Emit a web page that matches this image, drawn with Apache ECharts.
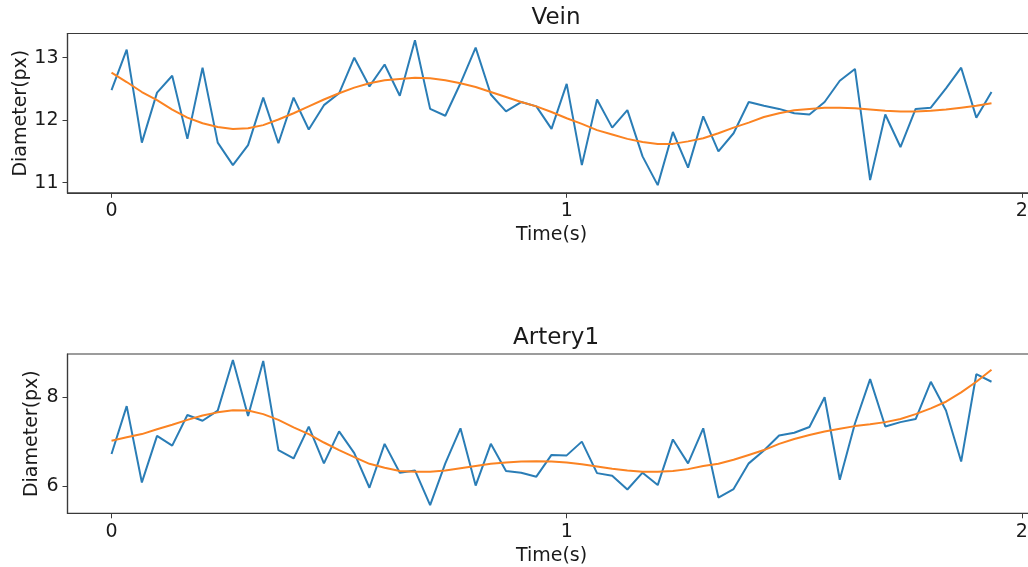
<!DOCTYPE html>
<html>
<head>
<meta charset="utf-8">
<script src="https://cdn.jsdelivr.net/npm/echarts@6/dist/echarts.min.js"></script>
<style>
  html, body { margin: 0; padding: 0; background: #ffffff; overflow: hidden; }
  /* plot area continues a little past the right edge of the window */
  #chart { width: 1036px; height: 567px; }
</style>
</head>
<body>
<div id="chart"></div>
<script>
// Sampling rate of the diameter measurements (frames per second)
const FRAME_RATE = 30;

// Vein: measured diameter per frame and its smoothed fit
const veinRaw = [12.48, 13.13, 11.64, 12.44, 12.71, 11.70, 12.84, 11.64, 11.28, 11.60,
  12.36, 11.63, 12.36, 11.85, 12.24, 12.43, 13.00, 12.54, 12.89, 12.39,
  13.28, 12.18, 12.07, 12.59, 13.16, 12.41, 12.14, 12.29, 12.22, 11.86,
  12.58, 11.28, 12.33, 11.88, 12.16, 11.42, 10.96, 11.81, 11.24, 12.06,
  11.50, 11.79, 12.29, 12.23, 12.18, 12.11, 12.09, 12.29, 12.63, 12.82,
  11.04, 12.09, 11.57, 12.18, 12.20, 12.51, 12.84, 12.04, 12.45];
const veinFit = [12.76, 12.61, 12.45, 12.32, 12.17, 12.04, 11.95, 11.89, 11.86, 11.87,
  11.92, 12.01, 12.11, 12.22, 12.33, 12.43, 12.52, 12.59, 12.64, 12.66,
  12.68, 12.67, 12.64, 12.59, 12.53, 12.45, 12.37, 12.29, 12.22, 12.13,
  12.03, 11.94, 11.84, 11.77, 11.70, 11.65, 11.62, 11.62, 11.66, 11.71,
  11.79, 11.88, 11.96, 12.05, 12.11, 12.16, 12.18, 12.20, 12.20, 12.19,
  12.17, 12.15, 12.14, 12.14, 12.15, 12.17, 12.20, 12.23, 12.27];

// Artery1: measured diameter per frame and its smoothed fit
const arteryRaw = [6.72, 7.80, 6.08, 7.13, 6.91, 7.60, 7.47, 7.70, 8.84, 7.58,
  8.82, 6.81, 6.62, 7.34, 6.51, 7.23, 6.74, 5.96, 6.95, 6.30,
  6.35, 5.57, 6.51, 7.30, 6.01, 6.95, 6.34, 6.30, 6.21, 6.70,
  6.69, 7.00, 6.29, 6.23, 5.92, 6.30, 6.02, 7.05, 6.51, 7.30,
  5.74, 5.93, 6.51, 6.80, 7.14, 7.20, 7.33, 8.00, 6.14, 7.41,
  8.41, 7.34, 7.44, 7.51, 8.35, 7.70, 6.55, 8.52, 8.35];
const arteryFit = [7.02, 7.10, 7.17, 7.28, 7.38, 7.49, 7.59, 7.66, 7.71, 7.70,
  7.62, 7.49, 7.32, 7.17, 6.98, 6.81, 6.65, 6.50, 6.41, 6.34,
  6.32, 6.32, 6.35, 6.40, 6.45, 6.50, 6.53, 6.55, 6.56, 6.55,
  6.53, 6.49, 6.44, 6.39, 6.35, 6.32, 6.32, 6.34, 6.38, 6.45,
  6.50, 6.59, 6.70, 6.81, 6.95, 7.06, 7.15, 7.23, 7.29, 7.35,
  7.39, 7.44, 7.51, 7.62, 7.75, 7.90, 8.11, 8.35, 8.62];

// Tick positions
const timeTicks = [0, 1, 2];
const veinTicks = [11, 12, 13];
const arteryTicks = [6, 8];

const FONT = '"DejaVu Sans", "Liberation Sans", sans-serif';
const BLUE = '#2a7db6';
const ORANGE = '#fb8322';
const FRAME = '#3a3a3a';
const TEXT = '#1a1a1a';

const pairs = (vals) => vals.map((v, i) => [i / FRAME_RATE, v]);

function xAxisFor(gridIndex) {
  return {
    type: 'value', gridIndex,
    min: -0.0967, max: 2.03,
    name: 'Time(s)', nameLocation: 'middle', nameGap: 33,
    nameTextStyle: { fontFamily: FONT, fontSize: 19, color: TEXT },
    axisLine: { show: true, onZero: false, lineStyle: { color: FRAME, width: 1.2 } },
    axisTick: { show: true, length: 5, inside: false, customValues: timeTicks, lineStyle: { color: FRAME, width: 1 } },
    axisLabel: { customValues: timeTicks, margin: 9, fontFamily: FONT, fontSize: 19, color: TEXT },
    splitLine: { show: false }
  };
}

function yAxisFor(gridIndex, min, max, ticks, gap) {
  return {
    type: 'value', gridIndex, min, max,
    name: 'Diameter(px)', nameLocation: 'middle', nameGap: gap, nameMoveOverlap: false,
    nameTextStyle: { fontFamily: FONT, fontSize: 19, color: TEXT },
    axisLine: { show: true, onZero: false, lineStyle: { color: FRAME, width: 1.2 } },
    axisTick: { show: true, length: 5, customValues: ticks, lineStyle: { color: FRAME, width: 1 } },
    axisLabel: { customValues: ticks, margin: 9, fontFamily: FONT, fontSize: 19, color: TEXT },
    splitLine: { show: false }
  };
}

function lineSeries(name, vals, color, idx) {
  return {
    name, type: 'line', xAxisIndex: idx, yAxisIndex: idx,
    data: pairs(vals), showSymbol: false, symbol: 'none',
    lineStyle: { color, width: 2 }, animation: false, silent: true
  };
}

const chart = echarts.init(document.getElementById('chart'), null, { renderer: 'canvas' });
chart.setOption({
  backgroundColor: '#ffffff',
  animation: false,
  title: [
    { text: 'Vein', left: 551, top: 2, textAlign: 'center',
      textStyle: { fontFamily: FONT, fontSize: 23, fontWeight: 'normal', color: TEXT } },
    { text: 'Artery1', left: 551, top: 322, textAlign: 'center',
      textStyle: { fontFamily: FONT, fontSize: 23, fontWeight: 'normal', color: TEXT } }
  ],
  grid: [
    { left: 67.5, top: 33.5, width: 968, height: 159.3, show: true, borderColor: FRAME, borderWidth: 1.2, containLabel: false },
    { left: 67.5, top: 354, width: 968, height: 159.3, show: true, borderColor: FRAME, borderWidth: 1.2, containLabel: false }
  ],
  xAxis: [xAxisFor(0), xAxisFor(1)],
  yAxis: [
    yAxisFor(0, 10.837, 13.387, veinTicks, 37),
    yAxisFor(1, 5.384, 8.976, arteryTicks, 26)
  ],
  series: [
    lineSeries('Vein', veinRaw, BLUE, 0),
    lineSeries('Vein fit', veinFit, ORANGE, 0),
    lineSeries('Artery1', arteryRaw, BLUE, 1),
    lineSeries('Artery1 fit', arteryFit, ORANGE, 1)
  ]
});
</script>
</body>
</html>
